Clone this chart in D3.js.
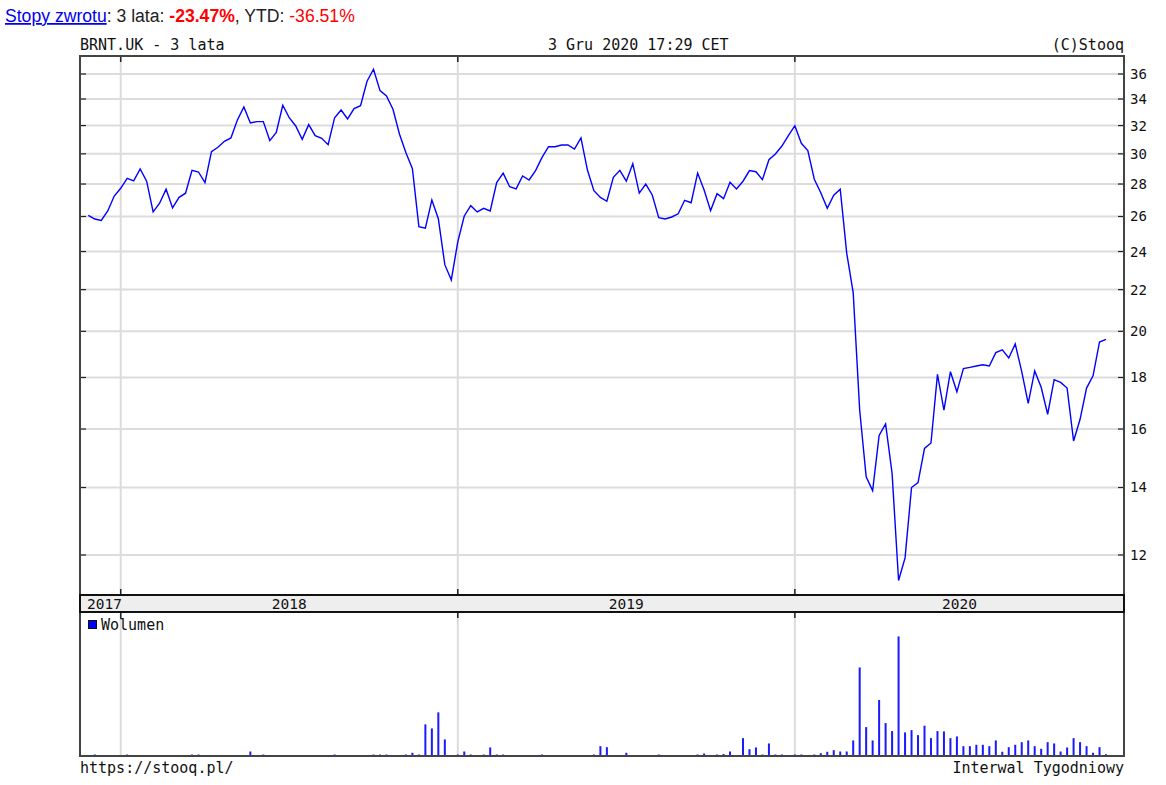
<!DOCTYPE html>
<html>
<head>
<meta charset="utf-8">
<script src="https://cdn.jsdelivr.net/npm/d3@7/dist/d3.min.js"></script>
<style>
html,body{margin:0;padding:0;background:#fff;}
svg{display:block;}
</style>
</head>
<body>
<svg id="chart" width="1166" height="785"></svg>
<script>
// ---- data ----
const symbol = "BRNT.UK - 3 lata";
const stamp = "3 Gru 2020 17:29 CET";
const copyright = "(C)Stooq";
const footerLeft = "https://stooq.pl/";
const footerRight = "Interwal Tygodniowy";
const volumeLabel = "Wolumen";
const returnsLink = "Stopy zwrotu";
const return3y = "-23.47%";
const returnYtd = "-36.51%";
const firstWeek = "2017-11-30";
const priceTicks = [12, 14, 16, 18, 20, 22, 24, 26, 28, 30, 32, 34, 36];

const prices = [
  26.07, 25.85, 25.77, 26.33, 27.24, 27.73, 28.37, 28.2, 28.98, 28.18,
  26.27, 26.8, 27.67, 26.51, 27.16, 27.42, 28.89, 28.78, 28.09, 30.15,
  30.45, 30.87, 31.11, 32.41, 33.39, 32.19, 32.29, 32.29, 30.92, 31.51,
  33.52, 32.58, 31.97, 31.01, 32.07, 31.27, 31.08, 30.63, 32.58, 33.16,
  32.49, 33.26, 33.49, 35.41, 36.39, 34.66, 34.24, 33.21, 31.39, 30.08,
  29.0, 25.4, 25.32, 27.0, 25.87, 23.29, 22.49, 24.54, 26.03, 26.65,
  26.27, 26.49, 26.33, 28.09, 28.7, 27.83, 27.69, 28.52, 28.26, 28.87,
  29.76, 30.49, 30.49, 30.61, 30.61, 30.33, 31.11, 28.91, 27.58, 27.16,
  26.92, 28.43, 28.89, 28.18, 29.33, 27.43, 28.0, 27.31, 25.93, 25.85,
  25.97, 26.16, 26.98, 26.83, 28.71, 27.62, 26.35, 27.39, 27.08, 28.11,
  27.69, 28.18, 28.87, 28.8, 28.28, 29.6, 29.99, 30.54, 31.27, 31.99,
  30.73, 30.22, 28.31, 27.45, 26.49, 27.29, 27.67, 23.91, 21.85, 16.71,
  14.35, 13.9, 15.77, 16.19, 14.46, 11.32, 11.92, 14.0, 14.16, 15.31,
  15.5, 18.13, 16.71, 18.24, 17.42, 18.37, 18.42, 18.48, 18.53, 18.48,
  19.05, 19.17, 18.82, 19.43, 18.24, 16.97, 18.27, 17.6, 16.55, 17.91,
  17.8, 17.57, 15.57, 16.36, 17.57, 18.07, 19.52, 19.64
];

const volumes = [
  0, 1, 0, 0, 0, 0, 1, 0, 0, 0,
  0, 0, 0, 0, 0, 0, 1, 1, 0, 0,
  0, 0, 0, 0, 0, 4, 0, 1, 0, 0,
  0, 0, 0, 0, 0, 0, 0, 0, 1, 0,
  0, 0, 0, 0, 1, 1, 1, 0, 0, 1,
  2.7, 1, 31, 27, 43, 16, 0, 1, 4, 1,
  0, 1, 8, 1, 1, 0, 0, 0, 0, 0,
  1, 0, 0, 0, 0, 0, 0, 0, 1, 9.3,
  8.3, 0, 0, 2.7, 0, 0, 0, 0, 1, 0,
  0, 0, 0, 0, 1, 2, 0, 1, 1.5, 4,
  0, 17.3, 6.3, 8, 1, 12, 1, 1, 0, 1,
  1, 0, 1, 2.3, 3.7, 5.3, 4, 4, 15, 87.7,
  28.3, 15, 55.3, 32.3, 24.3, 118.7, 23, 25.3, 20.3, 29.7,
  17.3, 24.3, 24, 17.3, 19, 9.3, 9.3, 10.7, 10.7, 9.3,
  15, 3.7, 8.3, 10.7, 13.3, 15, 9.3, 6.7, 13.3, 12,
  4, 8, 17.3, 13.3, 9.3, 2.7, 8.3, 1.3
];

// ---- derived categories (weekly dates) ----
const t0 = new Date(firstWeek + "T00:00:00");
const dates = prices.map((_, i) => d3.timeDay.offset(t0, 7 * i));

// ---- layout ----
const L = 80, R = 1124;
const pTop = 56, pBot = 595;
const bandTop = 595, bandBot = 612;
const vTop = 612, vBot = 756;
const mono = "'DejaVu Sans Mono', monospace";
const gridCol = "#dcdcdc";
const frameCol = "#444";

const svg = d3.select("#chart");

const x = d3.scaleLinear().domain([0, prices.length - 1]).range([88.3, 1106]);
const y = d3.scaleLog().domain([12, 36]).range([555, 74]);
const yv = d3.scaleLinear().domain([0, 143]).range([755.5, vTop]);

// year boundaries
const bounds = [];
for (let i = 1; i < dates.length; i++) {
  if (dates[i].getFullYear() !== dates[i - 1].getFullYear()) bounds.push(i);
}

// ---- header ----
const hdr = svg.append("text").attr("x", 5).attr("y", 22)
  .style("font-family", "'Liberation Sans', Arial, sans-serif").style("font-size", "17.6px").attr("fill", "#222");
hdr.append("tspan").text(returnsLink).attr("fill", "#0000ee").attr("text-decoration", "underline");
hdr.append("tspan").text(": 3 lata: ");
hdr.append("tspan").text(return3y).attr("fill", "#ff0000").attr("font-weight", "bold");
hdr.append("tspan").text(", YTD: ");
hdr.append("tspan").text(returnYtd).attr("fill", "#ff0000");

const monoText = (tx, ty, s, anchor, size) => svg.append("text").attr("x", tx).attr("y", ty)
  .attr("text-anchor", anchor || "start").style("font-family", mono)
  .style("font-size", (size || 15) + "px").attr("fill", "#111").text(s);

monoText(L, 50, symbol);
monoText(548, 50, stamp);
monoText(R, 50, copyright, "end");
monoText(L, 773, footerLeft);
monoText(R, 773, footerRight, "end");

// ---- price panel ----
const gP = svg.append("g");
gP.selectAll("line.hg").data(priceTicks).join("line")
  .attr("x1", L).attr("x2", R).attr("y1", d => y(d)).attr("y2", d => y(d))
  .attr("stroke", gridCol).attr("stroke-width", 2);
gP.selectAll("line.vg").data(bounds).join("line")
  .attr("x1", d => x(d)).attr("x2", d => x(d)).attr("y1", pTop).attr("y2", pBot)
  .attr("stroke", gridCol).attr("stroke-width", 2);

const line = d3.line().x((d, i) => x(i)).y(d => y(d));
gP.append("path").datum(prices).attr("d", line)
  .attr("fill", "none").attr("stroke", "#0000ff").attr("stroke-width", 1.4)
  .attr("stroke-linejoin", "miter");

// right axis with labels
const yAxis = d3.axisRight(y).tickValues(priceTicks).tickSize(0).tickPadding(6).tickFormat(d3.format("d"));
const ax = svg.append("g").attr("transform", `translate(${R},0)`).call(yAxis);
ax.select(".domain").remove();
ax.selectAll("text").style("font-family", mono).style("font-size", "14px").attr("fill", "#111");
// tick marks inside frame
gP.selectAll("line.rt").data(priceTicks).join("line")
  .attr("x1", R - 6).attr("x2", R).attr("y1", d => y(d)).attr("y2", d => y(d))
  .attr("stroke", "#222").attr("stroke-width", 1.2);
gP.selectAll("line.lt").data(priceTicks).join("line")
  .attr("x1", L).attr("x2", L + 6).attr("y1", d => y(d)).attr("y2", d => y(d))
  .attr("stroke", "#222").attr("stroke-width", 1.2);

// ---- volume panel ----
const gV = svg.append("g");
gV.selectAll("line.vg").data(bounds).join("line")
  .attr("x1", d => x(d)).attr("x2", d => x(d)).attr("y1", vTop).attr("y2", vBot)
  .attr("stroke", gridCol).attr("stroke-width", 2);
gV.selectAll("rect.bar").data(volumes).join("rect")
  .attr("x", (d, i) => x(i) - 1).attr("width", 2)
  .attr("y", d => yv(d)).attr("height", d => yv(0) - yv(d))
  .attr("fill", "#1a1aff");
gV.append("rect").attr("x", 88.5).attr("y", 620.5).attr("width", 8).attr("height", 8)
  .attr("fill", "#0000ff").attr("stroke", "#111").attr("stroke-width", 1);
monoText(101, 630, volumeLabel);

// ---- year band ----
svg.append("rect").attr("x", L).attr("y", bandTop).attr("width", R - L).attr("height", bandBot - bandTop)
  .attr("fill", "#eeeeee").attr("stroke", "#111").attr("stroke-width", 2);
const yearSeg = [];
const edges = [x(0)].concat(bounds.map(b => x(b))).concat([R]);
for (let k = 0; k < edges.length - 1; k++) {
  const idx = k === 0 ? 0 : bounds[k - 1];
  yearSeg.push({ label: String(dates[idx].getFullYear()), cx: (edges[k] + edges[k + 1]) / 2 });
}
svg.selectAll("text.yr").data(yearSeg).join("text")
  .attr("x", d => d.cx).attr("y", 608.5).attr("text-anchor", "middle")
  .style("font-family", mono).style("font-size", "14.5px").attr("fill", "#111").text(d => d.label);

// boundary tick marks
bounds.forEach(b => {
  [[pTop, pTop + 6], [pBot - 6, pBot], [vTop, vTop + 6]].forEach(([a, c]) => {
    svg.append("line").attr("x1", x(b)).attr("x2", x(b)).attr("y1", a).attr("y2", c)
      .attr("stroke", "#222").attr("stroke-width", 1.5);
  });
});

// ---- frames ----
svg.append("rect").attr("x", L).attr("y", pTop).attr("width", R - L).attr("height", pBot - pTop)
  .attr("fill", "none").attr("stroke", frameCol).attr("stroke-width", 2);
svg.append("rect").attr("x", L).attr("y", vTop).attr("width", R - L).attr("height", vBot - vTop)
  .attr("fill", "none").attr("stroke", frameCol).attr("stroke-width", 2);
svg.append("rect").attr("x", L).attr("y", bandTop).attr("width", R - L).attr("height", bandBot - bandTop)
  .attr("fill", "none").attr("stroke", "#111").attr("stroke-width", 2);
</script>
</body>
</html>
